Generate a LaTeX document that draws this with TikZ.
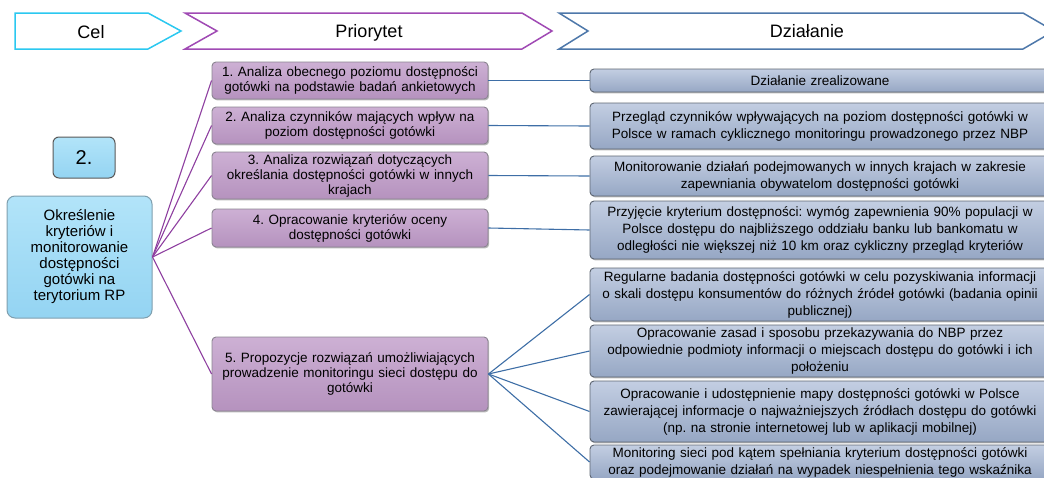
\documentclass[tikz,border=0pt]{standalone}
\usepackage{fontspec}
\setmainfont{Liberation Sans}
\usetikzlibrary{shadows}
\frenchspacing
\definecolor{celc}{HTML}{2BC8F0}
\definecolor{prioc}{HTML}{A04AB4}
\definecolor{dzc}{HTML}{4E78AA}
\definecolor{goaltop}{HTML}{B2E4F9}
\definecolor{goalbot}{HTML}{94D4F2}
\definecolor{goalborder}{HTML}{7F9FAE}
\definecolor{priotop}{HTML}{CDB0D4}
\definecolor{priobot}{HTML}{B592BE}
\definecolor{prioborder}{HTML}{8A8490}
\definecolor{acttop}{HTML}{C3CEE2}
\definecolor{actbot}{HTML}{96A7C4}
\definecolor{actborder}{HTML}{5E6672}
\definecolor{plinec}{HTML}{8E3FA0}
\definecolor{alinec}{HTML}{3E6EA6}
\tikzset{
  headtext/.style={font=\fontsize{18}{20}\selectfont, inner sep=0pt},
  boxshadow/.style={drop shadow={shadow xshift=1.2pt, shadow yshift=-1.4pt, opacity=0.45, fill=black!60}},
  goalbox/.style={draw=goalborder, line width=1pt, rounded corners=8pt, top color=goaltop, bottom color=goalbot,
    align=center, inner sep=0pt, font=\fontsize{15}{16}\selectfont},
  priobox/.style={draw=prioborder, line width=0.9pt, rounded corners=4pt, top color=priotop, bottom color=priobot,
    minimum width=276pt, text width=272pt, align=center, inner sep=0pt, boxshadow,
    font=\fontsize{13.5}{15}\selectfont},
  actbox/.style={draw=actborder, line width=0.9pt, rounded corners=4pt, top color=acttop, bottom color=actbot,
    minimum width=460pt, text width=456pt, align=center, inner sep=0pt, boxshadow,
    font=\fontsize{13.5}{17}\selectfont},
  pline/.style={draw=plinec, line width=1.1pt},
  aline/.style={draw=alinec, line width=1.1pt}
}
\begin{document}
\begin{tikzpicture}[x=1pt,y=-1pt]
\useasboundingbox (0,0) rectangle (1044,477);
% header chevrons
\draw[celc, line width=1.5pt, fill=white] (15,13) -- (148,13) -- (181,31) -- (148,49) -- (15,49) -- cycle;
\draw[prioc, line width=1.5pt, fill=white] (185,13) -- (522,13) -- (552,31) -- (522,49) -- (185,49) -- (217,31) -- cycle;
\draw[dzc, line width=1.5pt, fill=white] (559,13) -- (1023,13) -- (1054,31) -- (1023,49) -- (559,49) -- (588,31) -- cycle;
\node[headtext] (hcel) at (91,32) {Cel};
\node[headtext] (hprio) at (369,33) {Priorytet};
\node[headtext] (hdz) at (807,31) {Działanie};

% goal
\node[goalbox, minimum width=62pt, minimum height=41pt, draw=black!65, rounded corners=6pt, font=\fontsize{20}{22}\selectfont] (num) at (84,157.5) {2.};
\node[goalbox, minimum width=145pt, minimum height=122pt] (goal) at (79.5,257) {Określenie\\kryteriów i\\monitorowanie\\dostępności\\gotówki na\\terytorium RP};

% priorities
\node[priobox, minimum height=37pt] (p1) at (350,80.5) {1. Analiza obecnego poziomu dostępności\\gotówki na podstawie badań ankietowych};
\node[priobox, minimum height=37pt] (p2) at (350,125.5) {2. Analiza czynników mających wpływ na\\poziom dostępności gotówki};
\node[priobox, minimum height=47pt] (p3) at (350,175.5) {3. Analiza rozwiązań dotyczących\\określania dostępności gotówki w innych\\krajach};
\node[priobox, minimum height=38pt] (p4) at (350,228) {4. Opracowanie kryteriów oceny\\dostępności gotówki};
\node[priobox, minimum height=74pt] (p5) at (350,374) {5. Propozycje rozwiązań umożliwiających\\prowadzenie monitoringu sieci dostępu do\\gotówki};

% actions
\node[actbox, minimum height=23pt] (a1) at (820,80.5) {Działanie zrealizowane};
\node[actbox, minimum height=46pt] (a2) at (820,126) {Przegląd czynników wpływających na poziom dostępności gotówki w\\Polsce w ramach cyklicznego monitoringu prowadzonego przez NBP};
\node[actbox, minimum height=40pt] (a3) at (820,176) {Monitorowanie działań podejmowanych w innych krajach w zakresie\\zapewniania obywatelom dostępności gotówki};
\node[actbox, minimum height=58pt] (a4) at (820,230) {Przyjęcie kryterium dostępności: wymóg zapewnienia 90\% populacji w\\Polsce dostępu do najbliższego oddziału banku lub bankomatu w\\odległości nie większej niż 10 km oraz cykliczny przegląd kryteriów};
\node[actbox, minimum height=53pt] (a5) at (820,294.5) {Regularne badania dostępności gotówki w celu pozyskiwania informacji\\o skali dostępu konsumentów do różnych źródeł gotówki (badania opinii\\publicznej)};
\node[actbox, minimum height=52pt] (a6) at (820,351) {Opracowanie zasad i sposobu przekazywania do NBP przez\\odpowiednie podmioty informacji o miejscach dostępu do gotówki i ich\\położeniu};
\node[actbox, minimum height=61pt] (a7) at (820,411.5) {Opracowanie i udostępnienie mapy dostępności gotówki w Polsce\\zawierającej informacje o najważniejszych źródłach dostępu do gotówki\\(np. na stronie internetowej lub w aplikacji mobilnej)};
\node[actbox, minimum height=34pt] (a8) at (820,462) {Monitoring sieci pod kątem spełniania kryterium dostępności gotówki\\oraz podejmowanie działań na wypadek niespełnienia tego wskaźnika};

% connectors
\foreach \p in {p1,p2,p3,p4,p5} \draw[pline] (goal.east) -- (\p.west);
\draw[aline] (p1.east) -- (a1.west);
\draw[aline] (p2.east) -- (a2.west);
\draw[aline] (p3.east) -- (a3.west);
\draw[aline] (p4.east) -- (a4.west);
\foreach \a in {a5,a6,a7,a8} \draw[aline] (p5.east) -- (\a.west);
\end{tikzpicture}
\end{document}
